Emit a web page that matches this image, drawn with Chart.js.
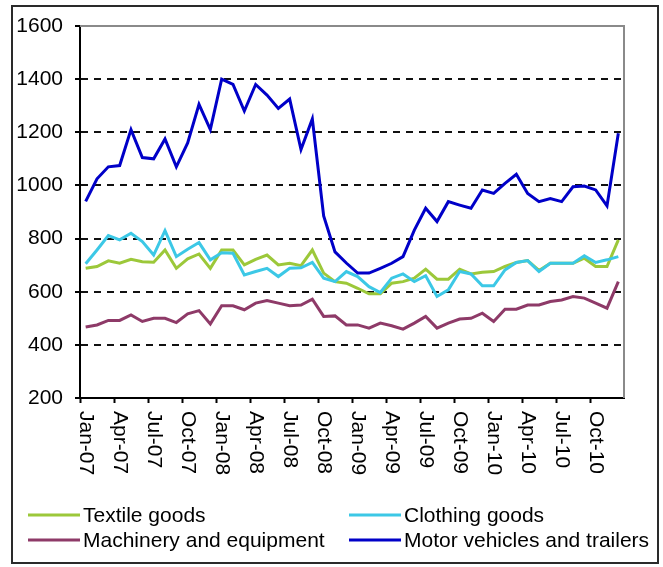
<!DOCTYPE html>
<html>
<head>
<meta charset="utf-8">
<script src="https://cdn.jsdelivr.net/npm/chart.js@4.4.1/dist/chart.umd.min.js"></script>
<style>
html,body{margin:0;padding:0;background:#fff;}
canvas{display:block;}
</style>
</head>
<body>
<canvas id="c" width="663" height="567"></canvas>
<script>
// ---- data ----
const months = [
  'Jan-07','Feb-07','Mar-07','Apr-07','May-07','Jun-07','Jul-07','Aug-07','Sep-07','Oct-07','Nov-07','Dec-07',
  'Jan-08','Feb-08','Mar-08','Apr-08','May-08','Jun-08','Jul-08','Aug-08','Sep-08','Oct-08','Nov-08','Dec-08',
  'Jan-09','Feb-09','Mar-09','Apr-09','May-09','Jun-09','Jul-09','Aug-09','Sep-09','Oct-09','Nov-09','Dec-09',
  'Jan-10','Feb-10','Mar-10','Apr-10','May-10','Jun-10','Jul-10','Aug-10','Sep-10','Oct-10','Nov-10','Dec-10'
];
const xTickLabels = ['Jan-07','Apr-07','Jul-07','Oct-07','Jan-08','Apr-08','Jul-08','Oct-08',
  'Jan-09','Apr-09','Jul-09','Oct-09','Jan-10','Apr-10','Jul-10','Oct-10'];
const yTickValues = [200, 400, 600, 800, 1000, 1200, 1400, 1600];
const seriesNames = ['Textile goods', 'Clothing goods', 'Machinery and equipment', 'Motor vehicles and trailers'];

const textile = [688,695,716,707,722,713,711,757,688,724,742,688,
                 757,757,701,722,738,701,707,698,757,670,638,632,
                 613,592,592,632,638,651,685,647,647,685,667,673,
                 676,695,710,717,680,707,707,707,726,695,695,795];
const clothing = [705,757,811,795,820,789,738,830,732,760,785,720,
                  747,745,663,676,688,657,688,690,710,651,638,676,
                  657,619,597,651,667,638,660,582,607,676,667,622,
                  622,682,710,717,676,707,707,707,735,710,720,732];
const machinery = [467,475,492,492,513,488,500,500,484,517,529,479,
                   547,547,532,557,567,557,547,550,572,507,509,475,
                   475,463,482,472,459,482,507,463,482,497,500,519,
                   488,534,534,550,550,563,569,582,576,557,538,638];
const motor = [940,1025,1070,1075,1210,1105,1100,1175,1070,1160,1305,1210,
               1400,1380,1280,1380,1340,1290,1325,1135,1250,885,750,708,
               670,670,688,707,732,832,914,864,939,926,914,983,
               970,1008,1042,970,939,951,939,995,998,983,923,1196];

// ---- styles ----
const colors = ['#9CC83A', '#3CC8E6', '#8E3A68', '#0000C8'];
const FONT = "'Liberation Sans', Arial, Helvetica, sans-serif";

const seriesData = [textile, clothing, machinery, motor];
const datasets = seriesNames.map((name, i) => ({
  label: name,
  data: seriesData[i],
  borderColor: colors[i],
  backgroundColor: colors[i],
  borderWidth: 3,
  pointRadius: 0,
  tension: 0,
  fill: false,
  order: 3 - i
}));

const framePlugin = {
  id: 'frames',
  beforeDraw(chart) {
    const ctx = chart.ctx;
    ctx.save();
    ctx.fillStyle = '#fff';
    ctx.fillRect(0, 0, chart.width, chart.height);
    ctx.restore();
  },
  beforeDatasetsDraw(chart) {
    const {ctx, chartArea: a} = chart;
    ctx.save();
    ctx.strokeStyle = '#8a8a8a';
    ctx.lineWidth = 2;
    ctx.beginPath();
    ctx.moveTo(a.left, a.top);
    ctx.lineTo(a.right, a.top);
    ctx.lineTo(a.right, a.bottom);
    ctx.stroke();
    ctx.restore();
  },
  afterDraw(chart) {
    const ctx = chart.ctx;
    const xs = chart.scales.x;
    const a = chart.chartArea;
    ctx.save();
    // x tick labels, rotated clockwise (reading top to bottom)
    ctx.font = '21px ' + FONT;
    ctx.fillStyle = '#000';
    ctx.textAlign = 'left';
    ctx.textBaseline = 'middle';
    months.forEach((m, i) => {
      if (!xTickLabels.includes(m)) return;
      const x = xs.getPixelForValue(i);
      ctx.save();
      ctx.translate(x, a.bottom + 13);
      ctx.rotate(Math.PI / 2);
      ctx.fillText(m, 0, 0);
      ctx.restore();
    });
    // legend
    const colX = [28, 349];
    const rowY = [515, 540];
    chart.data.datasets.forEach((ds, i) => {
      const x = colX[i % 2];
      const y = rowY[Math.floor(i / 2)];
      ctx.strokeStyle = ds.borderColor;
      ctx.lineWidth = 3;
      ctx.beginPath();
      ctx.moveTo(x, y);
      ctx.lineTo(x + 52, y);
      ctx.stroke();
      ctx.fillStyle = '#000';
      ctx.fillText(ds.label, x + 55, y + 1);
    });
    // outer border
    ctx.strokeStyle = '#2a2a2a';
    ctx.lineWidth = 2;
    ctx.strokeRect(12, 6, 646, 557);
    ctx.restore();
  }
};

new Chart(document.getElementById('c'), {
  type: 'line',
  data: { labels: months, datasets },
  options: {
    responsive: false,
    devicePixelRatio: 1,
    animation: false,
    layout: { padding: { left: 16, top: 26, right: 39, bottom: 164 } },
    plugins: { legend: { display: false }, tooltip: { enabled: false } },
    scales: {
      x: {
        type: 'category',
        offset: true,
        grid: {
          offset: true,
          drawOnChartArea: false,
          drawTicks: true,
          tickLength: 5,
          tickWidth: 2,
          color: '#000',
          tickColor: ctx => (ctx.index % 3 === 0 ? '#000' : 'rgba(0,0,0,0)')
        },
        border: { display: true, color: '#000', width: 2 },
        ticks: { display: false, autoSkip: false }
      },
      y: {
        min: 200,
        max: 1600,
        afterBuildTicks: s => { s.ticks = yTickValues.map(v => ({ value: v })); },
        afterFit: s => { s.width = 64; },
        grid: {
          color: ctx => (ctx.tick && (ctx.tick.value === 1600 || ctx.tick.value === 200)) ? 'rgba(0,0,0,0)' : '#111',
          lineWidth: 2,
          tickLength: 5,
          tickWidth: 2,
          tickColor: '#000',
          tickBorderDash: []
        },
        border: { display: true, color: '#000', width: 2, dash: [7, 6] },
        ticks: {
          color: '#000',
          padding: 12,
          font: { family: FONT, size: 21 },
          callback: v => String(v)
        }
      }
    }
  },
  plugins: [framePlugin]
});
</script>
</body>
</html>
